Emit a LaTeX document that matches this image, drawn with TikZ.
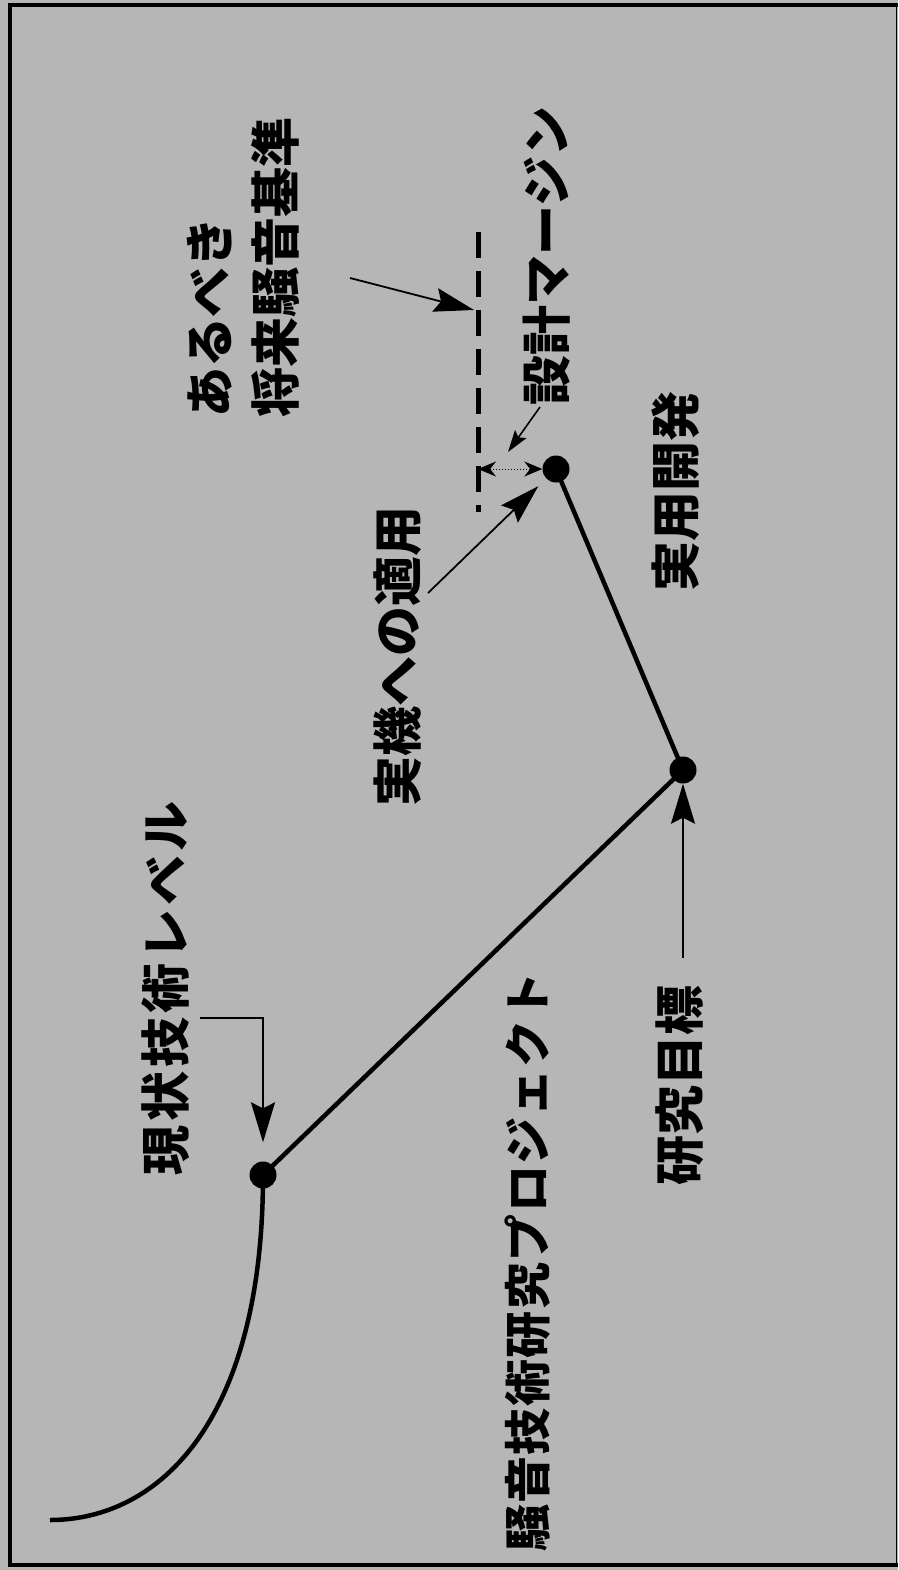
\documentclass[tikz,border=0pt]{standalone}
\usepackage{fontspec}
\setmainfont{Noto Sans CJK JP}
\usetikzlibrary{arrows.meta}
\definecolor{bg}{RGB}{182,182,182}
\begin{document}
\begin{tikzpicture}[x=1pt,y=-1pt,
  dot/.style={circle,fill=black,minimum size=27pt,inner sep=0pt},
  lbl/.style={rotate=90,inner sep=0pt,font=\fontsize{50}{56}\selectfont\bfseries},
  mainline/.style={line width=4.5pt},
  ptr/.style={line width=1.8pt,-{Stealth[length=40pt,width=24pt,inset=6pt]}},
  smallptr/.style={line width=1.6pt,-{Stealth[length=22pt,width=14pt,inset=4pt]}},
]
\fill[bg] (0,0) rectangle (898,1570);
\useasboundingbox (0,0) rectangle (898,1570);
% frame
\draw[line width=4.5pt] (898,5) -- (10,5) -- (10,1565) -- (898,1565);
\draw[line width=1.5pt] (896.5,5) -- (896.5,1565);

% points
\node[dot] (d1) at (263,1175) {};
\node[dot] (d2) at (683,770) {};
\node[dot] (d3) at (556,469) {};
\coordinate (c0) at (50,1520);

% main curve and lines
\draw[mainline] (d1.center) .. controls (263,1420) and (160,1520) .. (c0);
\draw[mainline] (d1.center) -- (d2.center) -- (d3.center);

% dashed future standard line
\coordinate (dtop) at (478,232);
\coordinate (dbot) at (478,512);
\draw[line width=5pt,dash pattern=on 26pt off 13pt] (dtop) -- (dbot);

% labels
\node[lbl,font=\fontsize{50}{56}\selectfont\bfseries\addfontfeature{LetterSpace=8}] (lcur) at (166,988) {現状技術レベル};
\node[lbl] (lgoal) at (680,1085) {研究目標};
\node[lbl,font=\fontsize{47}{52}\selectfont\bfseries\addfontfeature{LetterSpace=3}] (lproj) at (528,1262) {騒音技術研究プロジェクト};
\node[lbl] (lapp) at (398,656) {実機への適用};
\node[lbl] (ldev) at (676,491) {実用開発};
\node[lbl] (lmar) at (547,256) {設計マージン};
\node[lbl,anchor=west] (lshould) at (210,418) {あるべき};
\node[lbl,anchor=west] (lstd) at (275,418) {将来騒音基準};

% arrows
\coordinate (a1) at (200,1018);
\draw[ptr] (a1) -| ([yshift=19pt]d1.north);
\coordinate (b1) at (683,958);
\draw[ptr] (b1) -- (d2);
\coordinate (c1) at (428,593);
\draw[ptr,shorten >=11pt] (c1) -- (d3);
\coordinate (e1) at (350,278);
\coordinate (dl) at (474,310);
\draw[ptr] (e1) -- (dl);
\coordinate (f1) at (540,407);
\coordinate (f2) at (508,452);
\draw[smallptr] (f1) -- (f2);
% design margin double arrow
\coordinate (m1) at (478,469);
\draw[line width=1pt,dotted,{Stealth[length=18pt,width=15pt]}-{Stealth[length=18pt,width=15pt]}] (m1) -- (d3.west);
\end{tikzpicture}
\end{document}
